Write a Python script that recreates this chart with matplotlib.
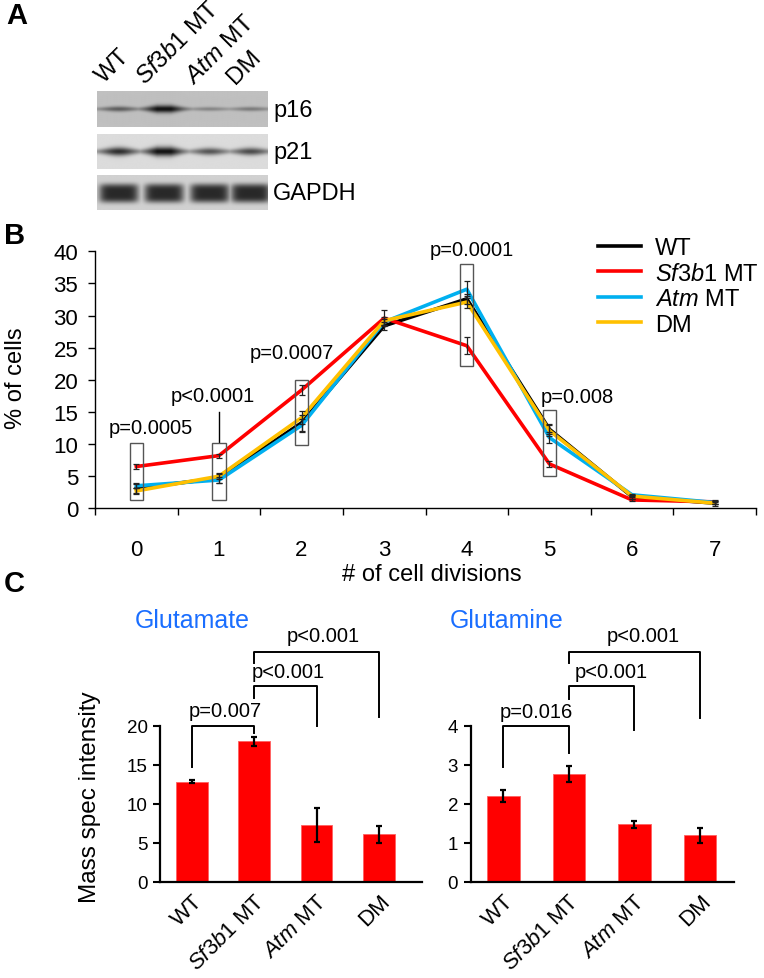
import numpy as np
import matplotlib
matplotlib.use("Agg")
import matplotlib.pyplot as plt
from matplotlib.patches import Rectangle

plt.rcParams['font.family'] = ['Liberation Sans', 'DejaVu Sans']
plt.rcParams['mathtext.fontset'] = 'custom'
plt.rcParams['mathtext.rm'] = 'Liberation Sans'
plt.rcParams['mathtext.it'] = 'Liberation Sans:italic'

# ---- data ----
groups = ['WT', r'$\mathit{Sf3b}$1 MT', r'$\mathit{Atm}$ MT', 'DM']
lane_labels = ['WT', r'$\mathit{Sf3b1}$ MT', r'$\mathit{Atm}$ MT', 'DM']

# panel A: band strength per lane
p16_band = [0.45, 1.0, 0.22, 0.28]
p21_band = [0.75, 1.0, 0.55, 0.6]
gapdh_band = [1.0, 1.0, 1.0, 1.0]

# panel B: % of cells per number of divisions
divisions = [0, 1, 2, 3, 4, 5, 6, 7]
wt = [3.1, 4.7, 13.3, 28.4, 32.6, 12.3, 1.8, 0.8]
sf3b1 = [6.5, 8.2, 18.4, 29.6, 25.3, 6.9, 1.3, 1.0]
atm = [3.5, 4.4, 12.9, 29.0, 34.1, 11.0, 2.1, 0.9]
dm = [2.7, 5.0, 14.1, 29.2, 32.1, 12.1, 1.9, 0.8]
wt_err = [0.7, 0.7, 1.2, 0.6, 0.8, 0.8, 0.3, 0.4]
sf3b1_err = [0.4, 0.3, 0.8, 1.2, 1.3, 0.5, 0.2, 0.3]
atm_err = [0.4, 0.4, 1.0, 0.5, 1.3, 0.8, 0.2, 0.2]
dm_err = [0.4, 0.5, 1.0, 0.6, 1.0, 0.8, 0.2, 0.2]
pvals_b = ['p=0.0005', 'p<0.0001', 'p=0.0007', 'p=0.0001', 'p=0.008']
box_x = [0, 1, 2, 4, 5]
box_lo = [1.3, 1.3, 9.9, 22.2, 5.1]
box_hi = [10.2, 10.2, 20.0, 38.0, 15.3]

# panel C: mass spec
glutamate = [12.8, 18.0, 7.3, 6.1]
glutamate_err = [0.2, 0.6, 2.2, 1.1]
glutamine = [2.19, 2.76, 1.47, 1.19]
glutamine_err = [0.15, 0.21, 0.09, 0.19]

W, H = 764, 979
fig = plt.figure(figsize=(W / 100, H / 100), dpi=100)


def rect(x0, y0, x1, y1):
    return [x0 / W, 1 - y1 / H, (x1 - x0) / W, (y1 - y0) / H]


def ftext(x, y, s, **kw):
    fig.text(x / W, 1 - y / H, s, **kw)


# ---- panel A: blot ----
lane_c = np.array([0.51, 1.57, 2.64, 3.60])
xs = np.linspace(0, 4, 400)
ys = np.linspace(0, 1, 90)
X, Y = np.meshgrid(xs, ys)


def thin_band(amps, bg, dark, wy):
    prof = np.zeros_like(X)
    for c, a in zip(lane_c, amps):
        prof = np.maximum(prof, a * np.exp(-((X - c) / 0.45) ** 2))
    prof = np.clip(prof + 0.12, 0, 1)
    th = wy * (0.5 + prof)
    return bg - dark * prof * np.exp(-((Y - 0.5) / th) ** 2)


def thick_band(amps, bg, dark):
    prof = np.zeros_like(X)
    for c, a in zip(lane_c, amps):
        prof = np.maximum(prof, a * np.exp(-((X - c) / 0.46) ** 6))
    return bg - dark * prof * np.exp(-((Y - 0.52) / 0.27) ** 4)


strips = [
    (92, 128, thin_band(p16_band, 0.75, 0.68, 0.07), 'p16'),
    (135, 170, thin_band(p21_band, 0.86, 0.78, 0.09), 'p21'),
    (176, 211, thick_band(gapdh_band, 0.82, 0.66), 'GAPDH'),
]
for y0, y1, img, name in strips:
    ax = fig.add_axes(rect(97, y0, 268, y1))
    ax.imshow(img, cmap='gray', vmin=0, vmax=1, extent=[0, 4, 0, 1],
              aspect='auto', interpolation='bilinear')
    ax.axis('off')
    ftext(273, (y0 + y1) / 2 + 1, name, fontsize=17, ha='left', va='center')

lane_anchor = [(107, 88), (148, 89), (197, 89), (239, 89)]
for (lx, ly), lab in zip(lane_anchor, lane_labels):
    ftext(lx, ly, lab, fontsize=17.5, rotation=45, ha='left', va='bottom',
          rotation_mode='anchor')

ftext(6, 16, 'A', fontsize=21, fontweight='bold', ha='left', va='center')

# ---- panel B: line chart ----
axb = fig.add_axes(rect(95, 252.3, 756, 509.3))
colors = ['black', '#FF0000', '#00B0F0', '#FFC000']
series = [wt, sf3b1, atm, dm]
errs = [wt_err, sf3b1_err, atm_err, dm_err]
for vals, err, col, lab in zip(series, errs, colors, groups):
    axb.plot(divisions, vals, color=col, lw=2.6, label=lab, zorder=3)
    axb.errorbar(divisions, vals, yerr=err, fmt='none', ecolor='#222222',
                 elinewidth=0.9, capsize=2.5, capthick=0.9, zorder=4)

for bx, lo, hi in zip(box_x, box_lo, box_hi):
    axb.add_patch(Rectangle((bx - 0.08, lo), 0.16, hi - lo, fill=False,
                            edgecolor='#555555', lw=1.0, zorder=5))

pv_pos = [(0.18, 12.5), (0.92, 17.5), (1.88, 24.2), (4.06, 40.3), (5.34, 17.4)]
for (px, py), s in zip(pv_pos, pvals_b):
    axb.text(px, py, s, fontsize=14.5, ha='center', va='center')
axb.plot([1, 1], [10.3, 15.0], color='black', lw=1.0)

axb.set_xlim(-0.5, 7.5)
axb.set_ylim(0, 40)
axb.set_yticks(range(0, 41, 5))
axb.set_xticks(divisions)
axb.set_xticks(np.arange(-0.5, 8, 1), minor=True)
axb.tick_params(axis='x', which='major', length=0, pad=22, labelsize=16)
axb.tick_params(axis='x', which='minor', length=5, width=1, direction='out')
axb.tick_params(axis='y', length=5, width=1, direction='out', pad=7, labelsize=16)
for sp in ['top', 'right']:
    axb.spines[sp].set_visible(False)
for sp in ['left', 'bottom']:
    axb.spines[sp].set_linewidth(1.0)

axb.legend(loc='upper left', bbox_to_anchor=(598 / W, 1 - 238 / H),
           bbox_transform=fig.transFigure, frameon=False, fontsize=17,
           handlelength=1.8, handletextpad=0.6, labelspacing=0.15,
           borderpad=0, borderaxespad=0)

ftext(16, 378, '% of cells', fontsize=17, rotation=90, ha='center', va='center')
ftext(432, 575, '# of cell divisions', fontsize=17, ha='center', va='center')
ftext(4, 236, 'B', fontsize=21, fontweight='bold', ha='left', va='center')

# ---- panel C: bar charts ----
ftext(4, 584, 'C', fontsize=21, fontweight='bold', ha='left', va='center')

xpos = np.arange(4)


def bar_panel(box, xlim, vals, err, ymax, step, bar_w):
    ax = fig.add_axes(box)
    ax.bar(xpos, vals, width=bar_w, color='#FF0000', edgecolor='#FF6060',
           linewidth=0.6, zorder=2)
    ax.errorbar(xpos, vals, yerr=err, fmt='none', ecolor='black',
                elinewidth=1.6, capsize=2.5, capthick=1.6, zorder=3)
    ax.set_xlim(*xlim)
    ax.set_ylim(0, ymax)
    ax.set_yticks(np.arange(0, ymax + step / 2, step))
    ax.set_xticks(xpos)
    ax.set_xticklabels(groups, rotation=45, ha='right', rotation_mode='anchor')
    ax.tick_params(axis='x', length=0, pad=6, labelsize=16)
    ax.tick_params(axis='y', length=5, width=1.5, direction='out', pad=4,
                   labelsize=13.5)
    for sp in ['top', 'right']:
        ax.spines[sp].set_visible(False)
    for sp in ['left', 'bottom']:
        ax.spines[sp].set_linewidth(1.6)
    return ax


def bracket(ax, x0, x1, y_top, y0_end, y1_end, label, tx, ty):
    ax.plot([x0, x0, x1, x1], [y0_end, y_top, y_top, y1_end], color='black',
            lw=1.4, clip_on=False)
    ax.text(tx, ty, label, fontsize=14.5, ha='center', va='center')


axl = bar_panel(rect(160, 726.7, 422, 882.7), (-0.51, 3.69), glutamate,
                glutamate_err, 20, 5, 0.51)
bracket(axl, 0, 1, 20.0, 14.7, 19.1, 'p=0.007', 0.53, 21.9)
bracket(axl, 1, 2, 25.1, 23.6, 20.0, 'p<0.001', 1.54, 26.9)
bracket(axl, 1, 3, 29.5, 28.0, 21.1, 'p<0.001', 2.1, 31.6)
ftext(90, 797, 'Mass spec intensity', fontsize=17.5, rotation=90,
      ha='center', va='center')
ftext(192, 621, 'Glutamate', fontsize=18, color='#1A6EFF', ha='center', va='center')

axr = bar_panel(rect(470.7, 726.7, 734, 882.7), (-0.5, 3.52), glutamine,
                glutamine_err, 4, 1, 0.5)
bracket(axr, 0, 1, 4.0, 2.93, 3.3, 'p=0.016', 0.5, 4.36)
bracket(axr, 1, 2, 5.03, 4.68, 3.9, 'p<0.001', 1.64, 5.4)
bracket(axr, 1, 3, 5.9, 5.6, 4.2, 'p<0.001', 2.14, 6.32)
ftext(507, 621, 'Glutamine', fontsize=18, color='#1A6EFF', ha='center', va='center')

fig.savefig('out.png', dpi=100)
